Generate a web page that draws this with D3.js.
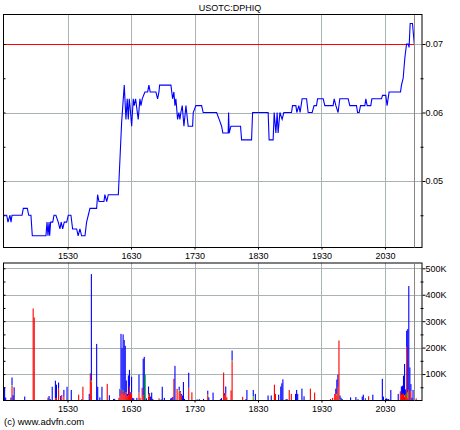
<!DOCTYPE html>
<html><head><meta charset="utf-8">
<script src="https://cdn.jsdelivr.net/npm/d3@7"></script>
<style>
body{margin:0;background:#fff}
svg{display:block}
text{font-family:"Liberation Sans",Arial,sans-serif;font-size:9px;fill:#000}
</style>
</head><body><svg id="c" width="460" height="430"></svg>
<script>
// ---------------- data ----------------
const title = "USOTC:DPHIQ";
const credit = "(c) www.advfn.com";
const timeTicks = [930, 990, 1050, 1110, 1170, 1230];           // minutes of day (15:30 ... 20:30)
const priceTicks = [0.05, 0.06, 0.07];
const priceMinorTicks = [0.045, 0.055, 0.065];
const volTicks = [100, 200, 300, 400, 500];                       // thousands
const volMinorTicks = [50, 150, 250, 350, 450];
const prevClose = 0.07;
const lastTradeTime = 1257;

const priceTimes = [869,872.5,873.7,875.6,876.6,877.5,887,888.2,892,893.3,895.4,896.7,909.6,910.6,911.5,912.5,913.1,914,916,917.2,919,921.2,922.8,924,925.4,926.9,929.2,930.7,933.2,934.8,938.6,940,941.7,943.3,946.5,948,949.6,951.2,957.5,958.4,959.7,964.4,965.3,967,968.5,978,981.1,983.6,985.2,986.4,987.4,988.3,989,990.6,992.1,993,994.3,996.8,998.4,999.4,1000.6,1003.1,1005.7,1006.9,1008.1,1013.5,1015.1,1016.4,1017,1027.7,1029.3,1030.5,1031.5,1032.4,1034,1035.2,1036.2,1037.1,1038.4,1040,1041.9,1044,1048.2,1048.8,1051.3,1056.7,1058.2,1070.9,1073.3,1075.6,1076.8,1081.8,1082.2,1082.8,1084.4,1093.5,1094.5,1103.9,1104.9,1119.6,1120.5,1124.3,1125.3,1126.9,1128.1,1129,1130.7,1132.8,1134.4,1141.7,1142.6,1145.8,1146.7,1148.6,1149.8,1151.7,1155.9,1157.4,1161.2,1163,1165.3,1166.3,1171.6,1173.2,1181,1182,1183.6,1185.7,1187.3,1195.2,1196.8,1203.1,1204.1,1205.6,1206.9,1211,1211.9,1213.2,1216.6,1217.6,1226.7,1227.7,1230.8,1232,1233.9,1244.7,1245.6,1247.2,1248.8,1250.4,1251.9,1252.8,1253.8,1256,1257.7];
const priceValues = [.045,.045,.044,.045,.044,.045,.045,.046,.046,.045,.045,.042,.042,.044,.042,.044,.042,.044,.044,.045,.045,.044,.043,.044,.043,.044,.044,.045,.045,.043,.043,.042,.043,.042,.042,.044,.045,.046,.046,.048,.047,.047,.048,.047,.048,.048,.0585,.064,.059,.062,.059,.062,.061,.058,.062,.061,.062,.059,.062,.061,.062,.063,.063,.064,.063,.063,.062,.063,.064,.064,.062,.063,.061,.062,.059,.060,.059,.060,.061,.058,.061,.058,.058,.060,.061,.061,.060,.060,.059,.058,.057,.057,.060,.057,.058,.058,.056,.056,.060,.060,.056,.056,.060,.057,.060,.057,.060,.059,.060,.060,.061,.061,.060,.061,.060,.062,.062,.060,.060,.061,.061,.062,.062,.061,.061,.062,.061,.060,.062,.062,.061,.061,.060,.060,.061,.061,.062,.061,.061,.062,.062,.0625,.0625,.061,.063,.063,.064,.065,.068,.070,.070,.0695,.073,.073,.070];

const volTimes = [869,870,871,876,877,878,879,889,897,898,911,912,913,915,918,919,921,923,924,926,929,933,940,943,944,950,951,952,957,958,960,962,967,969,973,974,978,979,980,981,982,983,984,985,986,987,988,989,990,991,992,995,997,998,1000,1001,1002,1003,1004,1006,1007,1008,1009,1010,1016,1018,1019,1021,1027,1028,1029,1030,1031,1033,1035,1036,1037,1038,1039,1040,1044,1047,1052,1054,1058,1062,1063,1067,1074,1075,1077,1078,1079,1080,1084,1085,1095,1098,1099,1105,1107,1119,1122,1125,1126,1129,1131,1132,1133,1136,1137,1139,1141,1145,1146,1147,1151,1153,1159,1163,1178,1180,1182,1183,1184,1185,1186,1187,1188,1189,1197,1202,1204,1208,1209,1211,1214,1218,1227,1228,1230,1231,1232,1233,1235,1242,1244,1245,1246,1247,1248,1249,1250,1251,1252,1253,1254,1255,1256,1259];
const volRed = [22,0,0,0,55,0,0,0,348,314,11,0,0,0,8,10,45,0,21,14,0,0,22,0,52,0,101,72,0,0,0,0,63,0,0,0,8,15,40,25,35,20,30,30,15,20,52,26,30,0,0,0,30,10,48,20,0,0,0,15,28,0,0,0,8,0,0,0,0,0,0,82,0,44,35,31,18,0,0,0,48,31,0,0,0,23,0,0,0,0,106,18,28,12,38,148,14,0,0,5,0,0,0,60,25,0,0,0,0,0,0,40,25,0,0,0,0,0,45,30,6,10,25,25,20,50,227,0,0,0,0,0,0,0,0,0,16,0,0,0,0,0,0,0,0,0,35,20,25,25,15,22,200,10,40,0,35,0,0,8];
const volGreen = [0,0,0,0,3,0,0,0,0,0,0,0,0,0,0,0,0,0,0,0,0,0,0,0,0,0,3,3,0,0,0,0,0,0,0,0,0,0,4,0,4,0,0,0,0,0,0,0,0,0,0,0,0,0,0,0,0,98,0,8,0,0,0,0,0,0,0,0,0,0,0,0,0,0,4,0,0,0,0,0,0,0,0,0,0,0,0,0,0,0,0,0,0,0,0,3,0,0,0,12,0,0,0,0,0,0,0,0,0,0,0,0,0,0,0,0,0,0,0,0,0,0,0,0,5,0,0,5,0,0,0,0,0,0,0,3,0,0,0,0,0,0,0,0,0,0,0,0,0,0,5,0,0,20,0,0,0,0,0,0];
const volBlue = [0,49,11,11,29,20,50,15,0,0,0,17,6,52,67,50,23,17,0,26,52,40,0,5,0,25,0,403,214,52,12,52,0,20,6,6,2,29,208,172,211,209,177,46,10,75,64,5,60,10,8,10,68,0,0,138,165,0,8,30,0,15,30,6,0,4,52,10,8,10,14,0,131,0,13,5,7,19,70,6,57,0,4,5,6,14,12,30,5,9,0,10,25,0,0,38,0,5,40,23,25,19,19,0,0,22,53,65,80,5,5,0,0,25,40,25,45,16,0,0,0,0,0,20,54,48,0,14,10,6,12,13,5,15,22,5,0,22,82,15,6,8,5,6,40,25,0,33,31,69,118,20,64,240,393,125,27,10,40,0];

// ---------------- drawing ----------------
const svg = d3.select("#c");
const L = 3, R = 422;
const pTop = 14, pBot = 247.5;
const vTop = 262.5, vBot = 400.5;
const gridCol = "#a9b3b3";

const x = d3.scaleLinear().domain([869, 1265]).range([L, R]);
const yP = d3.scaleLinear().domain([0.05, 0.07]).range([181, 44]);
const yV = d3.scaleLinear().domain([0, 500]).range([vBot, 268.3]);
const fmtTime = t => String(Math.floor(t / 60) * 100 + (t % 60));
const xEnd = Math.round(x(lastTradeTime)) + 0.5;

svg.append("text").attr("x", 230).attr("y", 11).attr("text-anchor", "middle").text(title);

function panel(top, bot, yScale, majors, clipId) {
  const g = svg.append("g");
  g.selectAll(".vg").data(timeTicks).join("line")
    .attr("x1", d => Math.round(x(d)) + 0.5).attr("x2", d => Math.round(x(d)) + 0.5)
    .attr("y1", top).attr("y2", bot).attr("stroke", gridCol);
  g.selectAll(".hg").data(majors).join("line")
    .attr("x1", L).attr("x2", R)
    .attr("y1", d => Math.round(yScale(d)) + 0.5).attr("y2", d => Math.round(yScale(d)) + 0.5)
    .attr("stroke", gridCol);
  svg.append("clipPath").attr("id", clipId).append("rect")
    .attr("x", L).attr("y", top).attr("width", R - L).attr("height", bot - top);
  return g;
}

function frame(top, bot, yScale, majors, minors, fmt) {
  const g = svg.append("g");
  g.append("rect").attr("x", L + 0.5).attr("y", top + 0.5).attr("width", R - L - 0.5).attr("height", bot - top - 0.5)
    .attr("fill", "none").attr("stroke", "#000");
  g.append("line").attr("x1", xEnd).attr("x2", xEnd)
    .attr("y1", top + 1).attr("y2", bot).attr("stroke", "#8f8686");
  const ra = g.append("g").attr("transform", `translate(${R + 0.5},0)`)
    .call(d3.axisRight(yScale).tickValues(majors).tickSize(3).tickPadding(0).tickFormat(fmt));
  ra.select(".domain").remove();
  ra.selectAll("text").style("font-family", '"Liberation Sans",Arial,sans-serif').style("font-size", "9px");
  const rm = g.append("g").attr("transform", `translate(${R - 1.5},0)`)
    .call(d3.axisRight(yScale).tickValues(minors).tickSize(3).tickFormat(""));
  rm.select(".domain").remove();
  const la = g.append("g").attr("transform", `translate(${L + 0.5},0)`)
    .call(d3.axisRight(yScale).tickValues(majors.concat(minors)).tickSize(2).tickFormat(""));
  la.select(".domain").remove();
  const ba = g.append("g").attr("transform", `translate(0,${bot})`)
    .call(d3.axisBottom(x).tickValues(timeTicks).tickSize(2).tickPadding(3).tickFormat(fmtTime));
  ba.select(".domain").remove();
  ba.selectAll("text").style("font-family", '"Liberation Sans",Arial,sans-serif').style("font-size", "9px");
}

// ---- price panel ----
panel(pTop, pBot, yP, priceTicks, "clipP");
svg.append("line").attr("x1", L).attr("x2", xEnd)
  .attr("y1", Math.round(yP(prevClose)) + 0.5).attr("y2", Math.round(yP(prevClose)) + 0.5)
  .attr("stroke", "#ff0000");
const pts = priceTimes.map((t, i) => [t, priceValues[i]]);
svg.append("path").attr("clip-path", "url(#clipP)")
  .attr("d", d3.line().x(d => x(d[0])).y(d => yP(d[1]))(pts))
  .attr("fill", "none").attr("stroke", "#0000ff").attr("stroke-width", 1.1);
frame(pTop, pBot, yP, priceTicks, priceMinorTicks, d3.format(".2f"));

// ---- volume panel ----
panel(vTop, vBot, yV, volTicks, "clipV");
const bars = volTimes.map((t, i) => ({t, r: volRed[i], g: volGreen[i], b: volBlue[i]}));
const segs = [];
bars.forEach(d => {
  segs.push({t: d.t, y0: 0, y1: d.r, c: "#ff0000"});
  segs.push({t: d.t, y0: d.r, y1: d.r + d.g, c: "#00cc00"});
  segs.push({t: d.t, y0: d.r + d.g, y1: d.r + d.g + d.b, c: "#0000ff"});
});
svg.append("g").attr("clip-path", "url(#clipV)").selectAll("rect")
  .data(segs.filter(s => s.y1 > s.y0)).join("rect")
  .attr("x", d => x(d.t)).attr("width", 1.1)
  .attr("y", d => yV(d.y1)).attr("height", d => yV(d.y0) - yV(d.y1))
  .attr("fill", d => d.c);
frame(vTop, vBot, yV, volTicks, volMinorTicks, d => d + "K");

svg.append("text").attr("x", 4).attr("y", 425).style("font-size", "9.5px").text(credit);
</script>
</body></html>
